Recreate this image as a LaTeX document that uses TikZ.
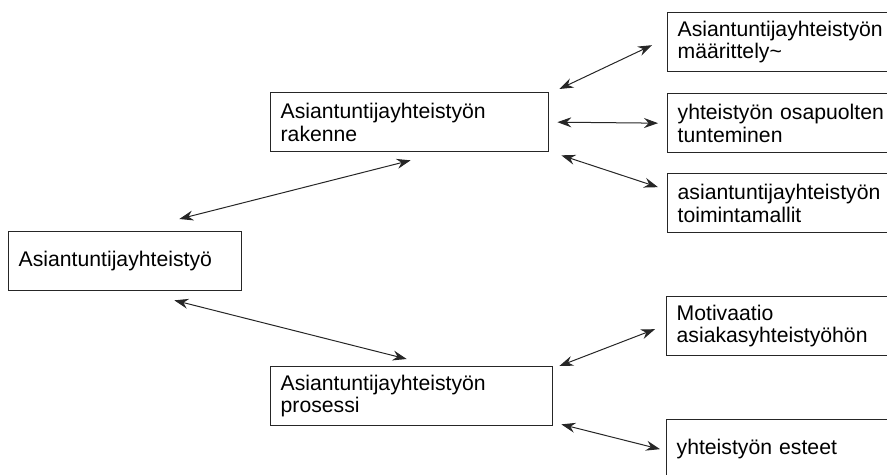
\documentclass[tikz,border=0pt]{standalone}
\usepackage{fontspec}
\setmainfont{Liberation Sans}
\usetikzlibrary{calc,arrows.meta}
\tikzset{
	laatikko/.style={draw=black!85, line width=1pt, rectangle, anchor=north west, align=left, minimum height=44.25pt, inner xsep=7.5pt, inner ysep=0pt, font=\fontsize{15.9}{17}\selectfont, text=black},
	nuoli/.style={draw=black!85, line width=0.75pt, {Stealth[length=10.5pt,width=7.5pt,inset=3.5pt]}-{Stealth[length=10.5pt,width=7.5pt,inset=3.5pt]}}
}

\begin{document}
\begin{tikzpicture}[x=0.75pt, y=-0.75pt]
			%%%%% START %%%%%
			
			\useasboundingbox (0, 0) rectangle (887, 474);
			\clip (0, 0) rectangle (887, 474);
			
			\node[laatikko, text width=159.75pt] (yhteistyo) at (8, 231) {Asiantuntijayhteistyö};
			
			\node[laatikko, text width=193.5pt] (rakenne) at (270, 92) {Asiantuntijayhteistyön\\rakenne};
			\node[laatikko, text width=196.5pt] (prosessi) at (270, 366) {Asiantuntijayhteistyön\\prosessi};
			
			\node[laatikko, text width=165pt] (maarittely) at (667, 12) {Asiantuntijayhteistyön\\määrittely\textasciitilde};
			\node[laatikko, text width=165pt] (osapuolet) at (667, 93) {yhteistyön osapuolten\\tunteminen};
			\node[laatikko, text width=165pt] (mallit) at (667, 173) {asiantuntijayhteistyön\\toimintamallit};
			
			\node[laatikko, text width=165pt] (motivaatio) at (666, 296) {Motivaatio\\asiakasyhteistyöhön};
			\node[laatikko, text width=165pt] (esteet) at (666, 419) {yhteistyön esteet};
			
			\draw[nuoli] ($(yhteistyo.north east)+(-63, -12)$) -- ($(rakenne.south)+(1, 8)$);
			\draw[nuoli] ($(yhteistyo.south east)+(-68, 9)$) -- ($(prosessi.north)+(-5, -7)$);
			
			\draw[nuoli] ($(rakenne.north east)+(10, -3)$) -- ($(maarittely.west)+(-15, 3)$);
			\draw[nuoli] ($(rakenne.east)+(8, 0)$) -- ($(osapuolet.west)+(-9, 0)$);
			\draw[nuoli] ($(rakenne.south east)+(12, 3)$) -- ($(mallit.west)+(-9, -16)$);
			
			\draw[nuoli] ($(prosessi.north east)+(6, 0)$) -- ($(motivaatio.west)+(-11, 3)$);
			\draw[nuoli] ($(prosessi.south east)+(8, -2)$) -- ($(esteet.west)+(-6, 0)$);
			
			%%%%% END %%%%%
\end{tikzpicture}
\end{document}
